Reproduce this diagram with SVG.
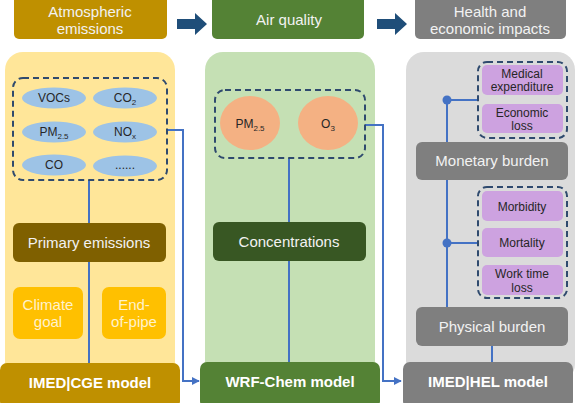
<svg xmlns="http://www.w3.org/2000/svg" width="582" height="403" viewBox="0 0 582 403">
<defs>
<marker id="ah" viewBox="0 0 10 10" refX="9" refY="5" markerWidth="4" markerHeight="4" orient="auto" markerUnits="strokeWidth">
<path d="M0,0 L10,5 L0,10 z" fill="#4472C4"/>
</marker>
<style>
text{font-family:"Liberation Sans",Arial,sans-serif;text-anchor:middle}
.hd{font-size:15px;fill:#F2F2F2}
.lbl{font-size:15px;fill:#F2F2F2}
.mdl{font-size:15px;font-weight:bold;fill:#FFFFFF}
.sm{font-size:12px;fill:#262626}
.pu{font-size:12px;fill:#262626}
.sub{font-size:8px}
.dash{fill:none;stroke:#2F4A6E;stroke-width:2;stroke-dasharray:6 4}
.ln{fill:none;stroke:#4472C4;stroke-width:2}
.ell{fill:#9DC3E6}
.circ{fill:#F4B183}
.pbox{fill:#CDA2E0}
.gbox{fill:#FFC000}
.gtxt{font-size:15px;fill:#FFF2CC}
</style>
</defs>
<rect x="0" y="0" width="582" height="403" fill="#FFFFFF"/>
<!-- panels -->
<g id="panels">
<rect x="5" y="52" width="170" height="330" rx="18" fill="#FFE699"/>
<rect x="205" y="52" width="170" height="330" rx="18" fill="#C5E0B4"/>
<rect x="406" y="52" width="169" height="330" rx="18" fill="#DBDBDB"/>
</g>
<!-- header boxes -->
<g id="h-emissions">
<rect x="14" y="-6" width="153" height="45" rx="5" fill="#BF9000"/>
<text class="hd" x="90" y="17">Atmospheric</text>
<text class="hd" x="90" y="34">emissions</text>
</g>
<g id="h-air">
<rect x="212" y="-6" width="152" height="45" rx="5" fill="#548235"/>
<text class="hd" x="289" y="25">Air quality</text>
</g>
<g id="h-health">
<rect x="415" y="-6" width="151" height="45" rx="5" fill="#7F7F7F"/>
<text class="hd" x="490" y="17">Health and</text>
<text class="hd" x="490" y="34">economic impacts</text>
</g>
<g id="big-arrows" fill="#1F4E79">
<path d="M177,19 H195 V13 L207,24 L195,35 V29 H177 Z"/>
<path d="M377,19 H395 V13 L407,24 L395,35 V29 H377 Z"/>
</g>
<!-- connectors -->
<g id="connectors">
<path class="ln" d="M89,180 V363"/>
<path class="ln" d="M167,130 H183 V381 H199" marker-end="url(#ah)"/>
<path class="ln" d="M289,158 V363"/>
<path class="ln" d="M365,125 H383 V381 H401" marker-end="url(#ah)"/>
<path class="ln" d="M447,100 H479"/>
<path class="ln" d="M447,100 V307"/>
<path class="ln" d="M447,243 H479"/>
<path class="ln" d="M492,346 V363"/>
<circle cx="447" cy="100" r="4.5" fill="#4472C4"/>
<circle cx="447" cy="243" r="4.5" fill="#4472C4"/>
</g>
<!-- left panel nodes -->
<g id="species">
<rect class="dash" x="13" y="78" width="154" height="102" rx="10"/>
<ellipse class="ell" cx="54" cy="98" rx="32" ry="10.5"/>
<text class="sm" x="54" y="102">VOCs</text>
<ellipse class="ell" cx="125" cy="98" rx="32" ry="10.5"/>
<text class="sm" x="125" y="102">CO<tspan class="sub" dy="3">2</tspan></text>
<ellipse class="ell" cx="54" cy="132" rx="32" ry="10.5"/>
<text class="sm" x="54" y="136">PM<tspan class="sub" dy="3">2.5</tspan></text>
<ellipse class="ell" cx="125" cy="132" rx="32" ry="10.5"/>
<text class="sm" x="125" y="136">NO<tspan class="sub" dy="3">x</tspan></text>
<ellipse class="ell" cx="54" cy="165" rx="32" ry="10.5"/>
<text class="sm" x="54" y="169">CO</text>
<ellipse class="ell" cx="125" cy="166" rx="32" ry="10.5"/>
<text class="sm" x="125" y="169">......</text>
</g>
<g id="primary">
<rect x="13" y="223" width="153" height="39" rx="6" fill="#7F6000"/>
<text class="lbl" x="89" y="248">Primary emissions</text>
</g>
<g id="climate">
<rect class="gbox" x="13" y="287" width="70" height="52" rx="7"/>
<text class="gtxt" x="48" y="310">Climate</text>
<text class="gtxt" x="48" y="327">goal</text>
</g>
<g id="endofpipe">
<rect class="gbox" x="102" y="287" width="64" height="52" rx="7"/>
<text class="gtxt" x="134" y="310">End-</text>
<text class="gtxt" x="134" y="327">of-pipe</text>
</g>
<g id="cge">
<rect x="0" y="363" width="180" height="45" rx="7" fill="#BF9000"/>
<text class="mdl" x="90" y="388">IMED|CGE model</text>
</g>
<!-- middle -->
<g id="pollutants">
<rect class="dash" x="215" y="90" width="150" height="68" rx="10"/>
<ellipse class="circ" cx="250" cy="123" rx="30" ry="27"/>
<text class="sm" x="250" y="128">PM<tspan class="sub" dy="3">2.5</tspan></text>
<ellipse class="circ" cx="328" cy="123" rx="30" ry="27"/>
<text class="sm" x="328" y="128">O<tspan class="sub" dy="3">3</tspan></text>
</g>
<g id="concentrations">
<rect x="213" y="222" width="153" height="39" rx="6" fill="#385723"/>
<text class="lbl" x="289" y="247">Concentrations</text>
</g>
<g id="wrf">
<rect x="200" y="362" width="180" height="46" rx="7" fill="#548235"/>
<text class="mdl" x="290" y="387">WRF-Chem model</text>
</g>
<!-- right -->
<g id="monetary-items">
<rect class="dash" x="478" y="62" width="89" height="76" rx="9"/>
<rect class="pbox" x="482" y="65" width="81" height="30" rx="5"/>
<text class="pu" x="522" y="78">Medical</text>
<text class="pu" x="522" y="91">expenditure</text>
<rect class="pbox" x="482" y="104" width="81" height="29" rx="5"/>
<text class="pu" x="522" y="117">Economic</text>
<text class="pu" x="522" y="130">loss</text>
</g>
<g id="monetary">
<rect x="416" y="142" width="152" height="38" rx="6" fill="#7F7F7F"/>
<text class="lbl" x="492" y="166">Monetary burden</text>
</g>
<g id="physical-items">
<rect class="dash" x="478" y="187" width="89" height="111" rx="9"/>
<rect class="pbox" x="482" y="191" width="81" height="30" rx="5"/>
<text class="pu" x="522" y="211">Morbidity</text>
<rect class="pbox" x="482" y="228" width="81" height="29" rx="5"/>
<text class="pu" x="522" y="247">Mortality</text>
<rect class="pbox" x="482" y="265" width="81" height="30" rx="5"/>
<text class="pu" x="522" y="278">Work time</text>
<text class="pu" x="522" y="292">loss</text>
</g>
<g id="physical">
<rect x="416" y="307" width="152" height="39" rx="6" fill="#7F7F7F"/>
<text class="lbl" x="492" y="332">Physical burden</text>
</g>
<g id="hel">
<rect x="403" y="362" width="170" height="46" rx="7" fill="#7F7F7F"/>
<text class="mdl" x="488" y="387">IMED|HEL model</text>
</g>
</svg>
